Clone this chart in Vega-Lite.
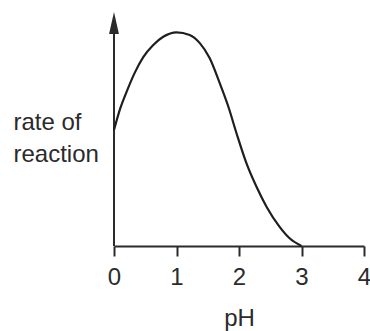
{
  "$schema": "https://vega.github.io/schema/vega-lite/v6.json",
  "width": 250,
  "height": 234,
  "autosize": "none",
  "padding": {"left": 114, "top": 12, "right": 6, "bottom": 85},
  "background": "white",
  "config": {
    "view": {"stroke": null},
    "font": "Liberation Sans"
  },
  "datasets": {
    "rate": [
      {"pH": 0.0, "rate": 4.96},
      {"pH": 0.1, "rate": 5.88},
      {"pH": 0.203, "rate": 6.6},
      {"pH": 0.335, "rate": 7.42},
      {"pH": 0.468, "rate": 8.07},
      {"pH": 0.628, "rate": 8.59},
      {"pH": 0.788, "rate": 8.94},
      {"pH": 1.0, "rate": 9.13},
      {"pH": 1.21, "rate": 9.02},
      {"pH": 1.37, "rate": 8.68},
      {"pH": 1.53, "rate": 8.03},
      {"pH": 1.69, "rate": 6.97},
      {"pH": 1.83, "rate": 5.95},
      {"pH": 1.96, "rate": 4.82},
      {"pH": 2.12, "rate": 3.53},
      {"pH": 2.28, "rate": 2.53},
      {"pH": 2.44, "rate": 1.68},
      {"pH": 2.65, "rate": 0.82},
      {"pH": 2.81, "rate": 0.33},
      {"pH": 3.0, "rate": 0.0}
    ],
    "origin": [{"pH": 0}]
  },
  "encoding": {
    "x": {
      "type": "quantitative",
      "scale": {"domain": [0, 4], "nice": false, "zero": false},
      "axis": {
        "title": "pH",
        "values": [0, 1, 2, 3, 4],
        "format": "d",
        "grid": false,
        "domainColor": "#2b2b2b",
        "domainWidth": 2,
        "tickColor": "#2b2b2b",
        "tickWidth": 2,
        "tickSize": 10,
        "labelFontSize": 24,
        "labelColor": "#2b2b2b",
        "labelBaseline": "alphabetic",
        "labelPadding": 28,
        "labelFlush": false,
        "labelOverlap": false,
        "titleFontSize": 24,
        "titleFontWeight": "normal",
        "titleColor": "#2b2b2b",
        "titleBaseline": "alphabetic",
        "titleY": 79
      }
    },
    "y": {
      "type": "quantitative",
      "scale": {"domain": [0, 10], "nice": false},
      "axis": {
        "title": ["rate of", "reaction"],
        "domain": false,
        "ticks": false,
        "labels": false,
        "grid": false,
        "titleAngle": 0,
        "titleAlign": "left",
        "titleBaseline": "alphabetic",
        "titleX": -101,
        "titleY": 117,
        "titleLineHeight": 32,
        "titleFontSize": 24,
        "titleFontWeight": "normal",
        "titleColor": "#2b2b2b"
      }
    }
  },
  "layer": [
    {
      "data": {"name": "origin"},
      "mark": {"type": "rule", "color": "#2b2b2b", "strokeWidth": 2},
      "encoding": {
        "x": {"field": "pH"},
        "y": {"datum": 0},
        "y2": {"datum": 9.2}
      }
    },
    {
      "data": {"name": "origin"},
      "mark": {
        "type": "point",
        "shape": "M0,-1L0.45,1L-0.45,1Z",
        "size": 484,
        "filled": true,
        "color": "#2b2b2b",
        "opacity": 1
      },
      "encoding": {
        "x": {"field": "pH"},
        "y": {"datum": 9.53}
      }
    },
    {
      "data": {"name": "rate"},
      "mark": {"type": "line", "interpolate": "monotone", "color": "#1e1e1e", "strokeWidth": 2.2},
      "encoding": {
        "x": {"field": "pH"},
        "y": {"field": "rate"}
      }
    }
  ]
}
